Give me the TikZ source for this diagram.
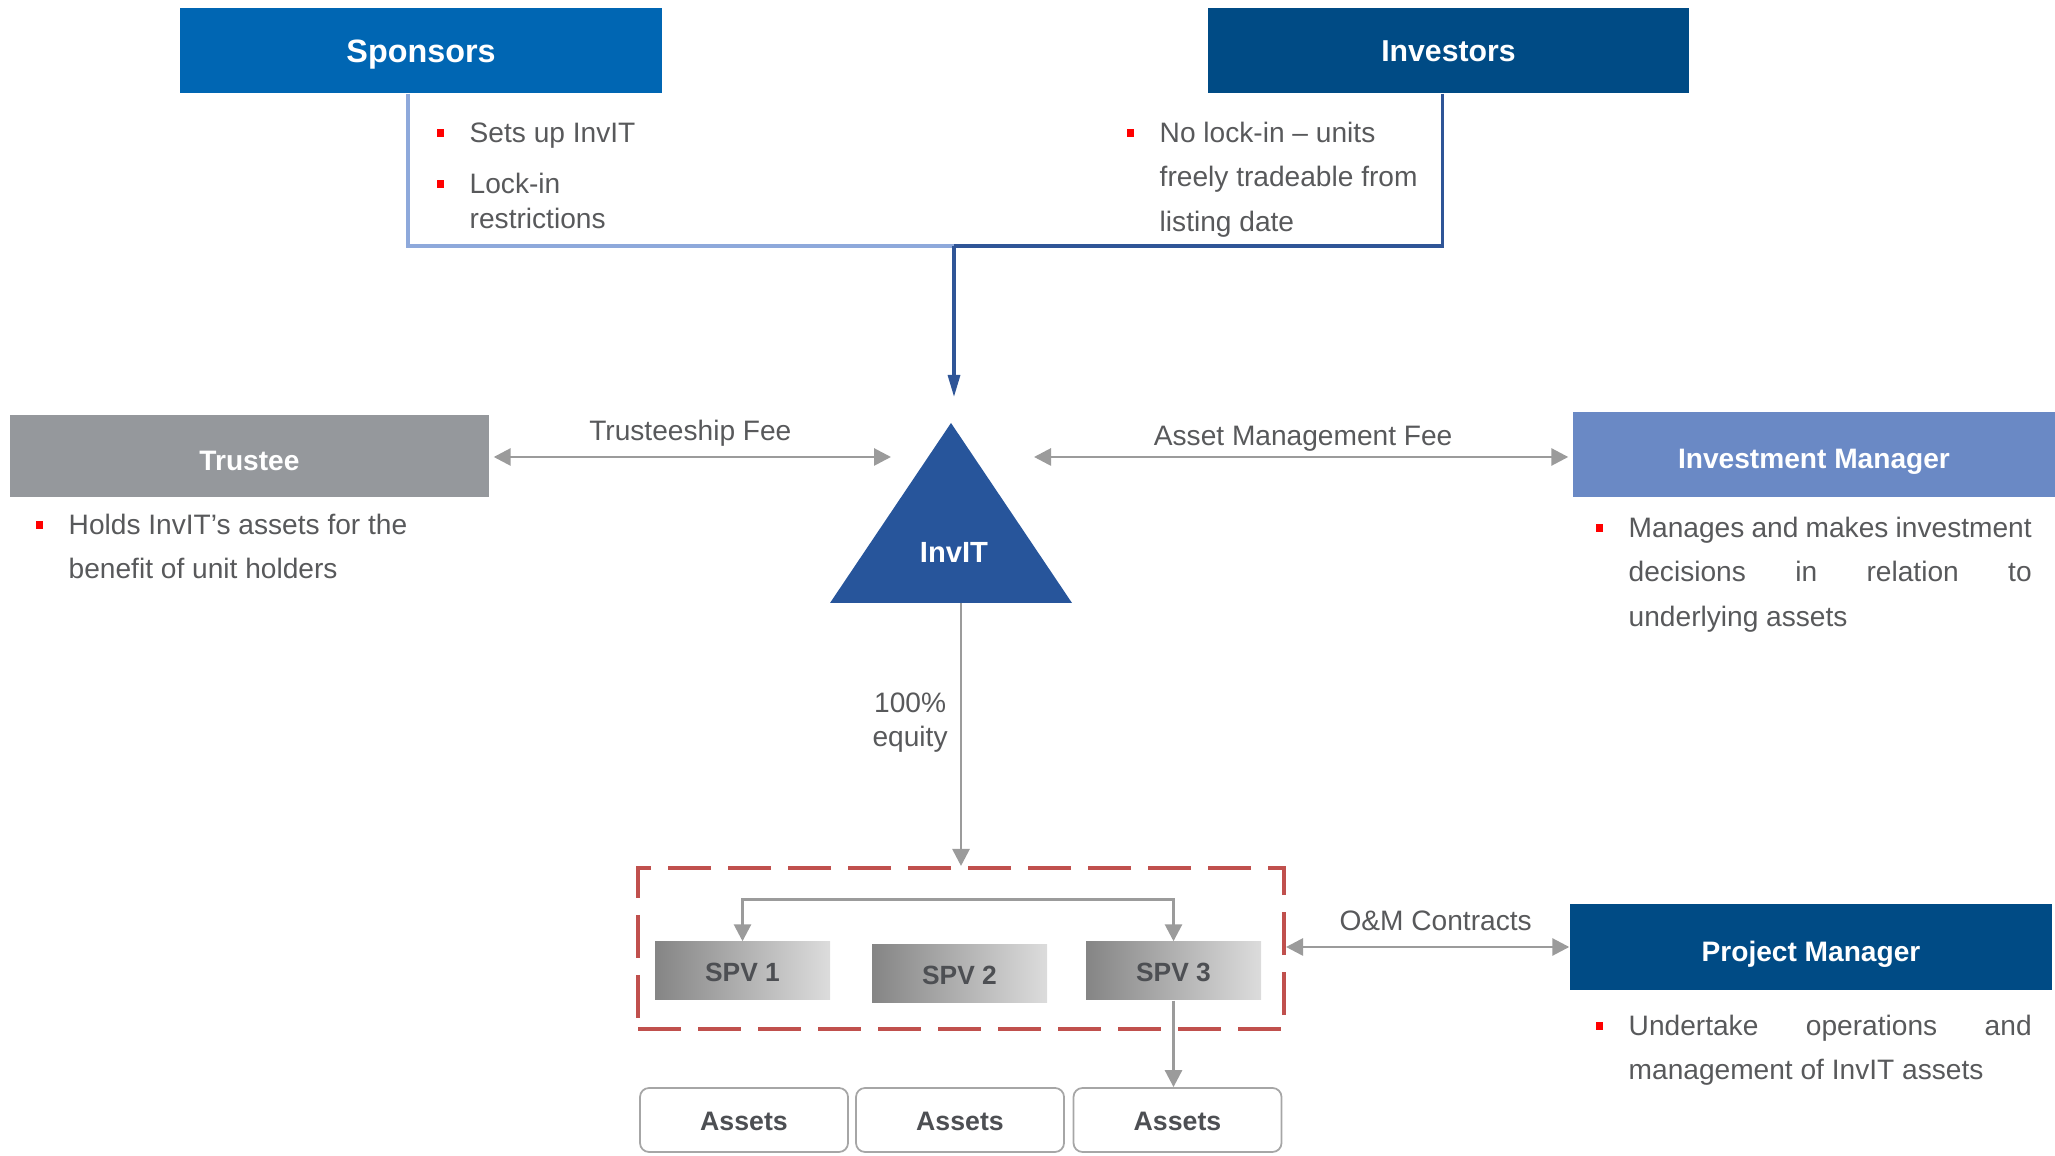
\documentclass[tikz,border=0pt]{standalone}
\usepackage{fontspec}
\setmainfont{Liberation Sans}
\usetikzlibrary{arrows.meta,calc,positioning}
\definecolor{sponsblue}{HTML}{0066B3}
\definecolor{navyblue}{HTML}{004B85}
\definecolor{trustgray}{HTML}{95989C}
\definecolor{mgrblue}{HTML}{6A89C5}
\definecolor{invitblue}{HTML}{27559B}
\definecolor{paleline}{HTML}{8EA9DB}
\definecolor{deepline}{HTML}{2F5597}
\definecolor{bodytext}{HTML}{58595B}
\definecolor{linkgray}{HTML}{9B9B9B}
\definecolor{dashred}{HTML}{C0504D}
\definecolor{bulletred}{HTML}{FF0000}
\definecolor{spvdark}{HTML}{858585}
\definecolor{spvlight}{HTML}{DCDCDC}
\definecolor{spvtext}{HTML}{4D4F53}
\definecolor{boxedge}{HTML}{A6A6A6}
\newcommand{\redsq}{\llap{\textcolor{bulletred}{\rule[0.19em]{0.075cm}{0.075cm}}\hspace{0.255cm}}}

\begin{document}
\begin{tikzpicture}[x=1cm,y=-1cm,line cap=butt,line join=miter,
  >={Triangle[length=1.7mm,width=1.7mm]},
  box/.style={minimum height=0.85cm,inner sep=0,text=white,text height=8pt,text depth=0pt,font=\bfseries\fontsize{8}{10}\selectfont},
  body/.style={text=bodytext,font=\fontsize{8}{12.7}\selectfont,align=left,inner sep=0},
  link/.style={linkgray,line width=0.8pt},
  spv/.style={left color=spvdark,right color=spvlight,minimum width=1.75cm,minimum height=0.58cm,inner sep=0,text height=5.8pt,text depth=0pt,text=spvtext,font=\bfseries\fontsize{7.5}{9}\selectfont},
  assetbox/.style={draw=boxedge,line width=0.5pt,rounded corners=0.09cm,minimum width=2.08cm,minimum height=0.64cm,inner sep=0,text height=6.2pt,text depth=0pt,text=spvtext,font=\bfseries\fontsize{7.6}{9}\selectfont}]
  \path[use as bounding box] (0,0) rectangle (20.55,11.56);

  % top row
  \node[box,fill=sponsblue,minimum width=4.82cm,text height=6.6pt,font=\bfseries\fontsize{9.2}{11}\selectfont] (spons) at (4.21,0.505) {Sponsors};
  \node[box,fill=navyblue,minimum width=4.81cm,text height=6pt,font=\bfseries\fontsize{8.6}{10}\selectfont] (invest) at (14.485,0.505) {Investors};
  \node[body,anchor=north west] (sponsnote1) at (4.69,1.22) {\redsq Sets up InvIT};
  \node[body,anchor=north west,font=\fontsize{8}{10.2}\selectfont] (sponsnote2) at (4.69,1.72) {\redsq Lock-in\\restrictions};
  \node[body,anchor=north west] (investnote) at (11.59,1.21) {\redsq No lock-in – units\\freely tradeable from\\listing date};

  \coordinate (join) at (9.54,2.46);
  \coordinate (feed) at (9.54,3.97);
  \draw[paleline,line width=0.9pt] ([xshift=-0.13cm]spons.south) |- (join);
  \draw[deepline,line width=0.9pt] ([xshift=-0.06cm]invest.south) |- (join);
  \draw[deepline,line width=0.9pt,-{Triangle[length=2.2mm,width=1.2mm]}] (join) -- (feed);

  % middle row
  \fill[invitblue] (9.51,4.23) -- (10.72,6.03) -- (8.30,6.03) -- cycle;
  \node[text=white,font=\bfseries\fontsize{8.3}{10}\selectfont,text height=6pt,text depth=0pt,inner sep=0] (invit) at (9.54,5.52) {InvIT};
  \coordinate (invfoot) at (9.61,6.03);

  \node[box,fill=trustgray,minimum width=4.79cm,minimum height=0.82cm] (trustee) at (2.495,4.56) {Trustee};
  \node[box,fill=mgrblue,minimum width=4.82cm] (invmgr) at (18.14,4.545) {Investment Manager};
  \node[body,anchor=north west] (trusteenote) at (0.68,5.13) {\redsq Holds InvIT’s assets for the\\benefit of unit holders};
  \node[body,anchor=north west] (invmgrnote) at (16.28,5.16) {\redsq\makebox[4.03cm][s]{Manages and makes investment}\\\makebox[4.03cm][s]{decisions in relation to}\\underlying assets};

  \coordinate (tfeeend) at (8.91,4.57);
  \coordinate (afeeend) at (10.34,4.57);
  \draw[link,<->,shorten <=0.04cm] (trustee.east |- tfeeend) -- node[body,above=0.09cm] (tfee) {Trusteeship Fee} (tfeeend);
  \draw[link,<->,shorten >=0.04cm] (afeeend) -- node[body,above=0.04cm] (afee) {Asset Management Fee} (afeeend -| invmgr.west);

  % SPV level
  \node[draw=dashred,line width=1.15pt,dash pattern=on 0.43cm off 0.17cm,minimum width=6.46cm,minimum height=1.61cm,inner sep=0] (spvgroup) at (9.61,9.485) {};
  \node[spv] (spv1) at (7.425,9.71) {SPV 1};
  \node[spv] (spv2) at (9.595,9.74) {SPV 2};
  \node[spv] (spv3) at (11.735,9.71) {SPV 3};
  \draw[link,->] (invfoot) -- node[body,align=center,font=\fontsize{8}{9.7}\selectfont,pos=0.455,left=0.12cm] (equity) {100\%\\equity} (invfoot |- spvgroup.north);
  \draw[link,<->] (spv1.north) -- ++(0,-0.42) -| (spv3.north);

  \node[assetbox] (asset1) at (7.44,11.20) {Assets};
  \node[assetbox] (asset2) at (9.60,11.20) {Assets};
  \node[assetbox] (asset3) at (11.775,11.20) {Assets};
  \draw[link,->] (spv3.south) -- (spv3.south |- asset3.north);

  \node[box,fill=navyblue,minimum width=4.82cm,minimum height=0.86cm] (projmgr) at (18.11,9.47) {Project Manager};
  \node[body,anchor=north west] (projmgrnote) at (16.28,10.14) {\redsq\makebox[4.03cm][s]{Undertake operations and}\\management of InvIT assets};
  \draw[link,<->] (spvgroup.east |- projmgr.west) -- node[body,above=0.15cm,xshift=0.08cm] (omlabel) {O\&M Contracts} (projmgr.west);
\end{tikzpicture}
\end{document}
